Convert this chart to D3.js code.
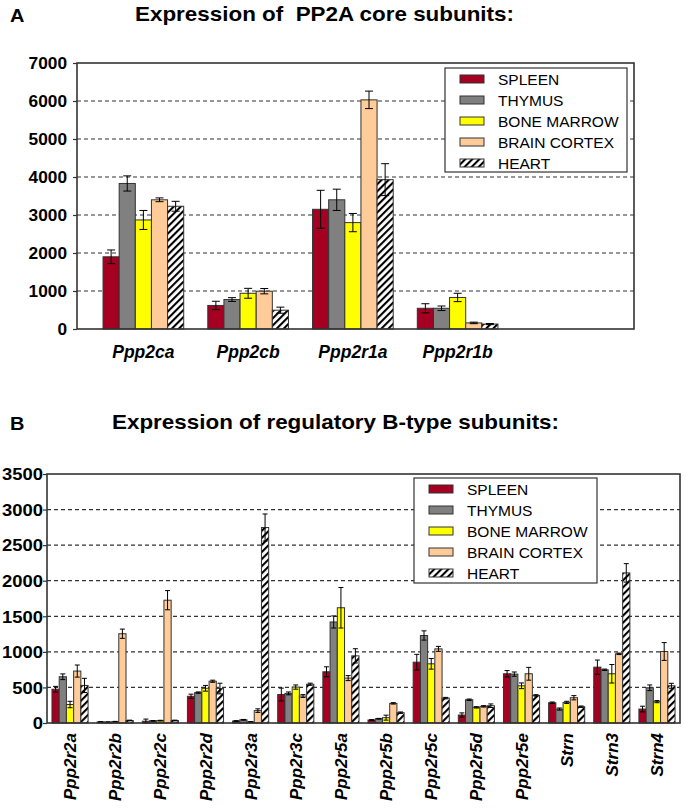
<!DOCTYPE html>
<html>
<head>
<meta charset="utf-8">
<script src="https://cdn.jsdelivr.net/npm/d3@7"></script>
<style>
  body { margin: 0; background: #fff; }
  svg { display: block; font-family: "Liberation Sans", Arial, sans-serif; }
</style>
</head>
<body>
<div id="chart"></div>
<script>
// tissues (legend order)
const tissues = ['SPLEEN', 'THYMUS', 'BONE MARROW', 'BRAIN CORTEX', 'HEART'];

// panel A: core subunits
const genesA = ['Ppp2ca', 'Ppp2cb', 'Ppp2r1a', 'Ppp2r1b'];
const spleenA = [1900, 620, 3150, 545];
const thymusA = [3830, 775, 3400, 545];
const marrowA = [2870, 940, 2800, 830];
const brainA = [3400, 995, 6030, 160];
const heartA = [3230, 495, 3930, 130];
const spleenAErr = [180, 110, 500, 120];
const thymusAErr = [200, 50, 280, 60];
const marrowAErr = [250, 130, 240, 110];
const brainAErr = [50, 70, 230, 20];
const heartAErr = [130, 80, 420, 15];
const ticksA = [0, 1000, 2000, 3000, 4000, 5000, 6000, 7000];

// panel B: regulatory B-type subunits
const genesB = ['Ppp2r2a', 'Ppp2r2b', 'Ppp2r2c', 'Ppp2r2d', 'Ppp2r3a', 'Ppp2r3c', 'Ppp2r5a',
    'Ppp2r5b', 'Ppp2r5c', 'Ppp2r5d', 'Ppp2r5e', 'Strn', 'Strn3', 'Strn4'];
const spleenB = [475, 15, 25, 375, 28, 400, 720, 42, 855, 112, 692, 285, 785, 196];
const thymusB = [650, 12, 30, 427, 45, 416, 1420, 60, 1230, 327, 687, 196, 748, 495];
const marrowB = [260, 18, 33, 488, 15, 505, 1620, 75, 832, 220, 523, 290, 692, 300];
const brainB = [730, 1255, 1726, 587, 174, 379, 631, 276, 1042, 234, 692, 355, 972, 1005];
const heartB = [528, 35, 35, 484, 2748, 545, 944, 145, 350, 243, 388, 229, 2110, 523];
const spleenBErr = [40, 5, 30, 30, 5, 90, 70, 5, 110, 30, 45, 10, 100, 40];
const thymusBErr = [40, 5, 5, 10, 5, 20, 85, 5, 65, 10, 30, 15, 10, 40];
const marrowBErr = [45, 5, 5, 40, 5, 30, 285, 35, 75, 10, 40, 15, 130, 15];
const brainBErr = [85, 65, 135, 15, 25, 20, 35, 10, 35, 10, 90, 30, 10, 125];
const heartBErr = [100, 5, 5, 75, 190, 15, 100, 10, 10, 25, 10, 10, 130, 35];
const ticksB = [0, 500, 1000, 1500, 2000, 2500, 3000, 3500];

const fills = ['#a50021', '#808080', '#ffff00', '#ffcc99', 'url(#hatch)'];
const ink = '#333';

const svg = d3.select('#chart')
    .append('svg')
    .attr('width', 686)
    .attr('height', 812);

svg.append('rect').attr('width', 686).attr('height', 812).attr('fill', '#fff');

// diagonal hatch for HEART
const pattern = svg.append('defs')
    .append('pattern')
    .attr('id', 'hatch')
    .attr('patternUnits', 'userSpaceOnUse')
    .attr('width', 5)
    .attr('height', 5)
    .attr('patternTransform', 'rotate(45)');
pattern.append('rect').attr('width', 5).attr('height', 5).attr('fill', '#fff');
pattern.append('line')
    .attr('x1', 1).attr('y1', 0).attr('x2', 1).attr('y2', 5)
    .attr('stroke', '#000').attr('stroke-width', 2.2);

// text, slightly stretched horizontally like the original figure
function stretchedText(parent, x, y, str, size, sx) {
    return parent.append('text')
        .attr('transform', `translate(${x},${y}) scale(${sx},1)`)
        .attr('font-size', size)
        .attr('font-weight', 'bold')
        .style('white-space', 'pre')
        .text(str);
}

function drawPanel(p) {
    const g = svg.append('g');

    const y = d3.scaleLinear()
        .domain([0, p.ticks[p.ticks.length - 1]])
        .range([p.bottom, p.top]);

    const x0 = d3.scaleBand()
        .domain(p.genes)
        .range([p.left + p.shift, p.right - p.shiftRight])
        .paddingInner(p.padIn)
        .paddingOuter(p.padOut);

    const x1 = d3.scaleBand()
        .domain(tissues)
        .range([0, x0.bandwidth()]);

    // dashed gridlines
    g.append('g')
        .selectAll('line')
        .data(p.ticks.slice(1, -1))
        .enter()
        .append('line')
        .attr('x1', p.left)
        .attr('x2', p.right)
        .attr('y1', d => y(d))
        .attr('y2', d => y(d))
        .attr('stroke', ink)
        .attr('stroke-width', 1.2)
        .attr('stroke-dasharray', '4,3');

    // y axis
    const axis = d3.axisLeft(y).tickValues(p.ticks).tickSize(4).tickFormat(d3.format('d'));
    const ax = g.append('g')
        .attr('transform', `translate(${p.left},0)`)
        .call(axis);
    ax.select('.domain').remove();
    ax.selectAll('.tick line').attr('stroke', ink).attr('stroke-width', 1.2);
    ax.selectAll('.tick text')
        .attr('x', null)
        .attr('dy', null)
        .attr('transform', `translate(${-p.labelGap},${p.tickSize * 0.36}) scale(${p.tickStretch},1)`)
        .attr('font-family', null)
        .attr('font-size', p.tickSize)
        .attr('font-weight', 'bold')
        .attr('fill', '#000');

    // bars
    const rows = p.genes.map((gene, i) => ({
        gene: gene,
        vals: p.series.map((s, k) => ({ tissue: tissues[k], v: s[i], e: p.errs[k][i], k: k }))
    }));

    const groups = g.append('g')
        .selectAll('g')
        .data(rows)
        .enter()
        .append('g')
        .attr('transform', d => `translate(${x0(d.gene)},0)`);

    groups.selectAll('rect')
        .data(d => d.vals)
        .enter()
        .append('rect')
        .attr('x', d => x1(d.tissue))
        .attr('y', d => y(d.v))
        .attr('width', x1.bandwidth())
        .attr('height', d => y(0) - y(d.v))
        .attr('fill', d => fills[d.k])
        .attr('stroke', ink)
        .attr('stroke-width', 1);

    // error bars
    const err = groups.selectAll('g.err')
        .data(d => d.vals)
        .enter()
        .append('g')
        .attr('class', 'err')
        .attr('stroke', '#000')
        .attr('stroke-width', 1);
    const cx = d => x1(d.tissue) + x1.bandwidth() / 2;
    err.append('line')
        .attr('x1', cx).attr('x2', cx)
        .attr('y1', d => y(d.v + d.e))
        .attr('y2', d => y(Math.max(0, d.v - d.e)));
    err.append('line')
        .attr('x1', d => cx(d) - p.cap).attr('x2', d => cx(d) + p.cap)
        .attr('y1', d => y(d.v + d.e)).attr('y2', d => y(d.v + d.e));
    err.append('line')
        .attr('x1', d => cx(d) - p.cap).attr('x2', d => cx(d) + p.cap)
        .attr('y1', d => y(Math.max(0, d.v - d.e))).attr('y2', d => y(Math.max(0, d.v - d.e)));

    // frame
    g.append('rect')
        .attr('x', p.left)
        .attr('y', p.top)
        .attr('width', p.right - p.left)
        .attr('height', p.bottom - p.top)
        .attr('fill', 'none')
        .attr('stroke', ink)
        .attr('stroke-width', 1.6);

    // gene labels
    const labels = g.append('g')
        .selectAll('text')
        .data(p.genes)
        .enter()
        .append('text')
        .attr('font-size', p.geneSize)
        .attr('font-weight', 'bold')
        .attr('font-style', 'italic')
        .text(d => d);
    if (p.rotate) {
        labels.attr('text-anchor', 'end')
            .attr('dy', '0.36em')
            .attr('transform', d => `translate(${x0(d) + x0.bandwidth() / 2},${p.geneY}) rotate(-90)`);
    } else {
        labels.attr('text-anchor', 'middle')
            .attr('x', d => x0(d) + x0.bandwidth() / 2)
            .attr('y', p.geneY);
    }

    // legend
    const leg = g.append('g');
    leg.append('rect')
        .attr('x', p.legend.x)
        .attr('y', p.legend.y)
        .attr('width', p.legend.w)
        .attr('height', p.legend.h)
        .attr('fill', '#fff')
        .attr('stroke', ink)
        .attr('stroke-width', 1.2);
    const item = leg.selectAll('g')
        .data(tissues)
        .enter()
        .append('g')
        .attr('transform', (d, i) => `translate(${p.legend.x + 15},${p.legend.y + 11 + i * 21})`);
    item.append('rect')
        .attr('x', 0)
        .attr('y', -4)
        .attr('width', 24)
        .attr('height', 8)
        .attr('fill', (d, i) => fills[i])
        .attr('stroke', ink)
        .attr('stroke-width', 1);
    item.append('text')
        .attr('x', 38)
        .attr('y', 5.5)
        .attr('font-size', 15.5)
        .text(d => d);

    // panel letter and title
    stretchedText(g, p.letterX, p.titleY + 1, p.letter, 19, 1.05);
    stretchedText(g, p.titleX, p.titleY, p.title, 19.5, 1.15);
}

drawPanel({
    genes: genesA,
    series: [spleenA, thymusA, marrowA, brainA, heartA],
    errs: [spleenAErr, thymusAErr, marrowAErr, brainAErr, heartAErr],
    ticks: ticksA,
    left: 77, right: 634, top: 63, bottom: 329,
    shift: 14, shiftRight: 124, padIn: 0.23, padOut: 0.115,
    labelGap: 10, tickSize: 16, tickStretch: 1.08,
    cap: 4,
    geneSize: 17.5, geneY: 358, rotate: false,
    legend: { x: 445, y: 68, w: 182, h: 104 },
    letter: 'A', letterX: 10, title: 'Expression of  PP2A core subunits:', titleX: 135, titleY: 21
});

drawPanel({
    genes: genesB,
    series: [spleenB, thymusB, marrowB, brainB, heartB],
    errs: [spleenBErr, thymusBErr, marrowBErr, brainBErr, heartBErr],
    ticks: ticksB,
    left: 47, right: 680, top: 474, bottom: 723,
    shift: 0, shiftRight: 0, padIn: 0.2, padOut: 0.11,
    labelGap: 4, tickSize: 16, tickStretch: 1.15,
    cap: 2.5,
    geneSize: 17, geneY: 733, rotate: true,
    legend: { x: 414, y: 478, w: 183, h: 105 },
    letter: 'B', letterX: 10, title: 'Expression of regulatory B-type subunits:', titleX: 112, titleY: 429
});
</script>
</body>
</html>
